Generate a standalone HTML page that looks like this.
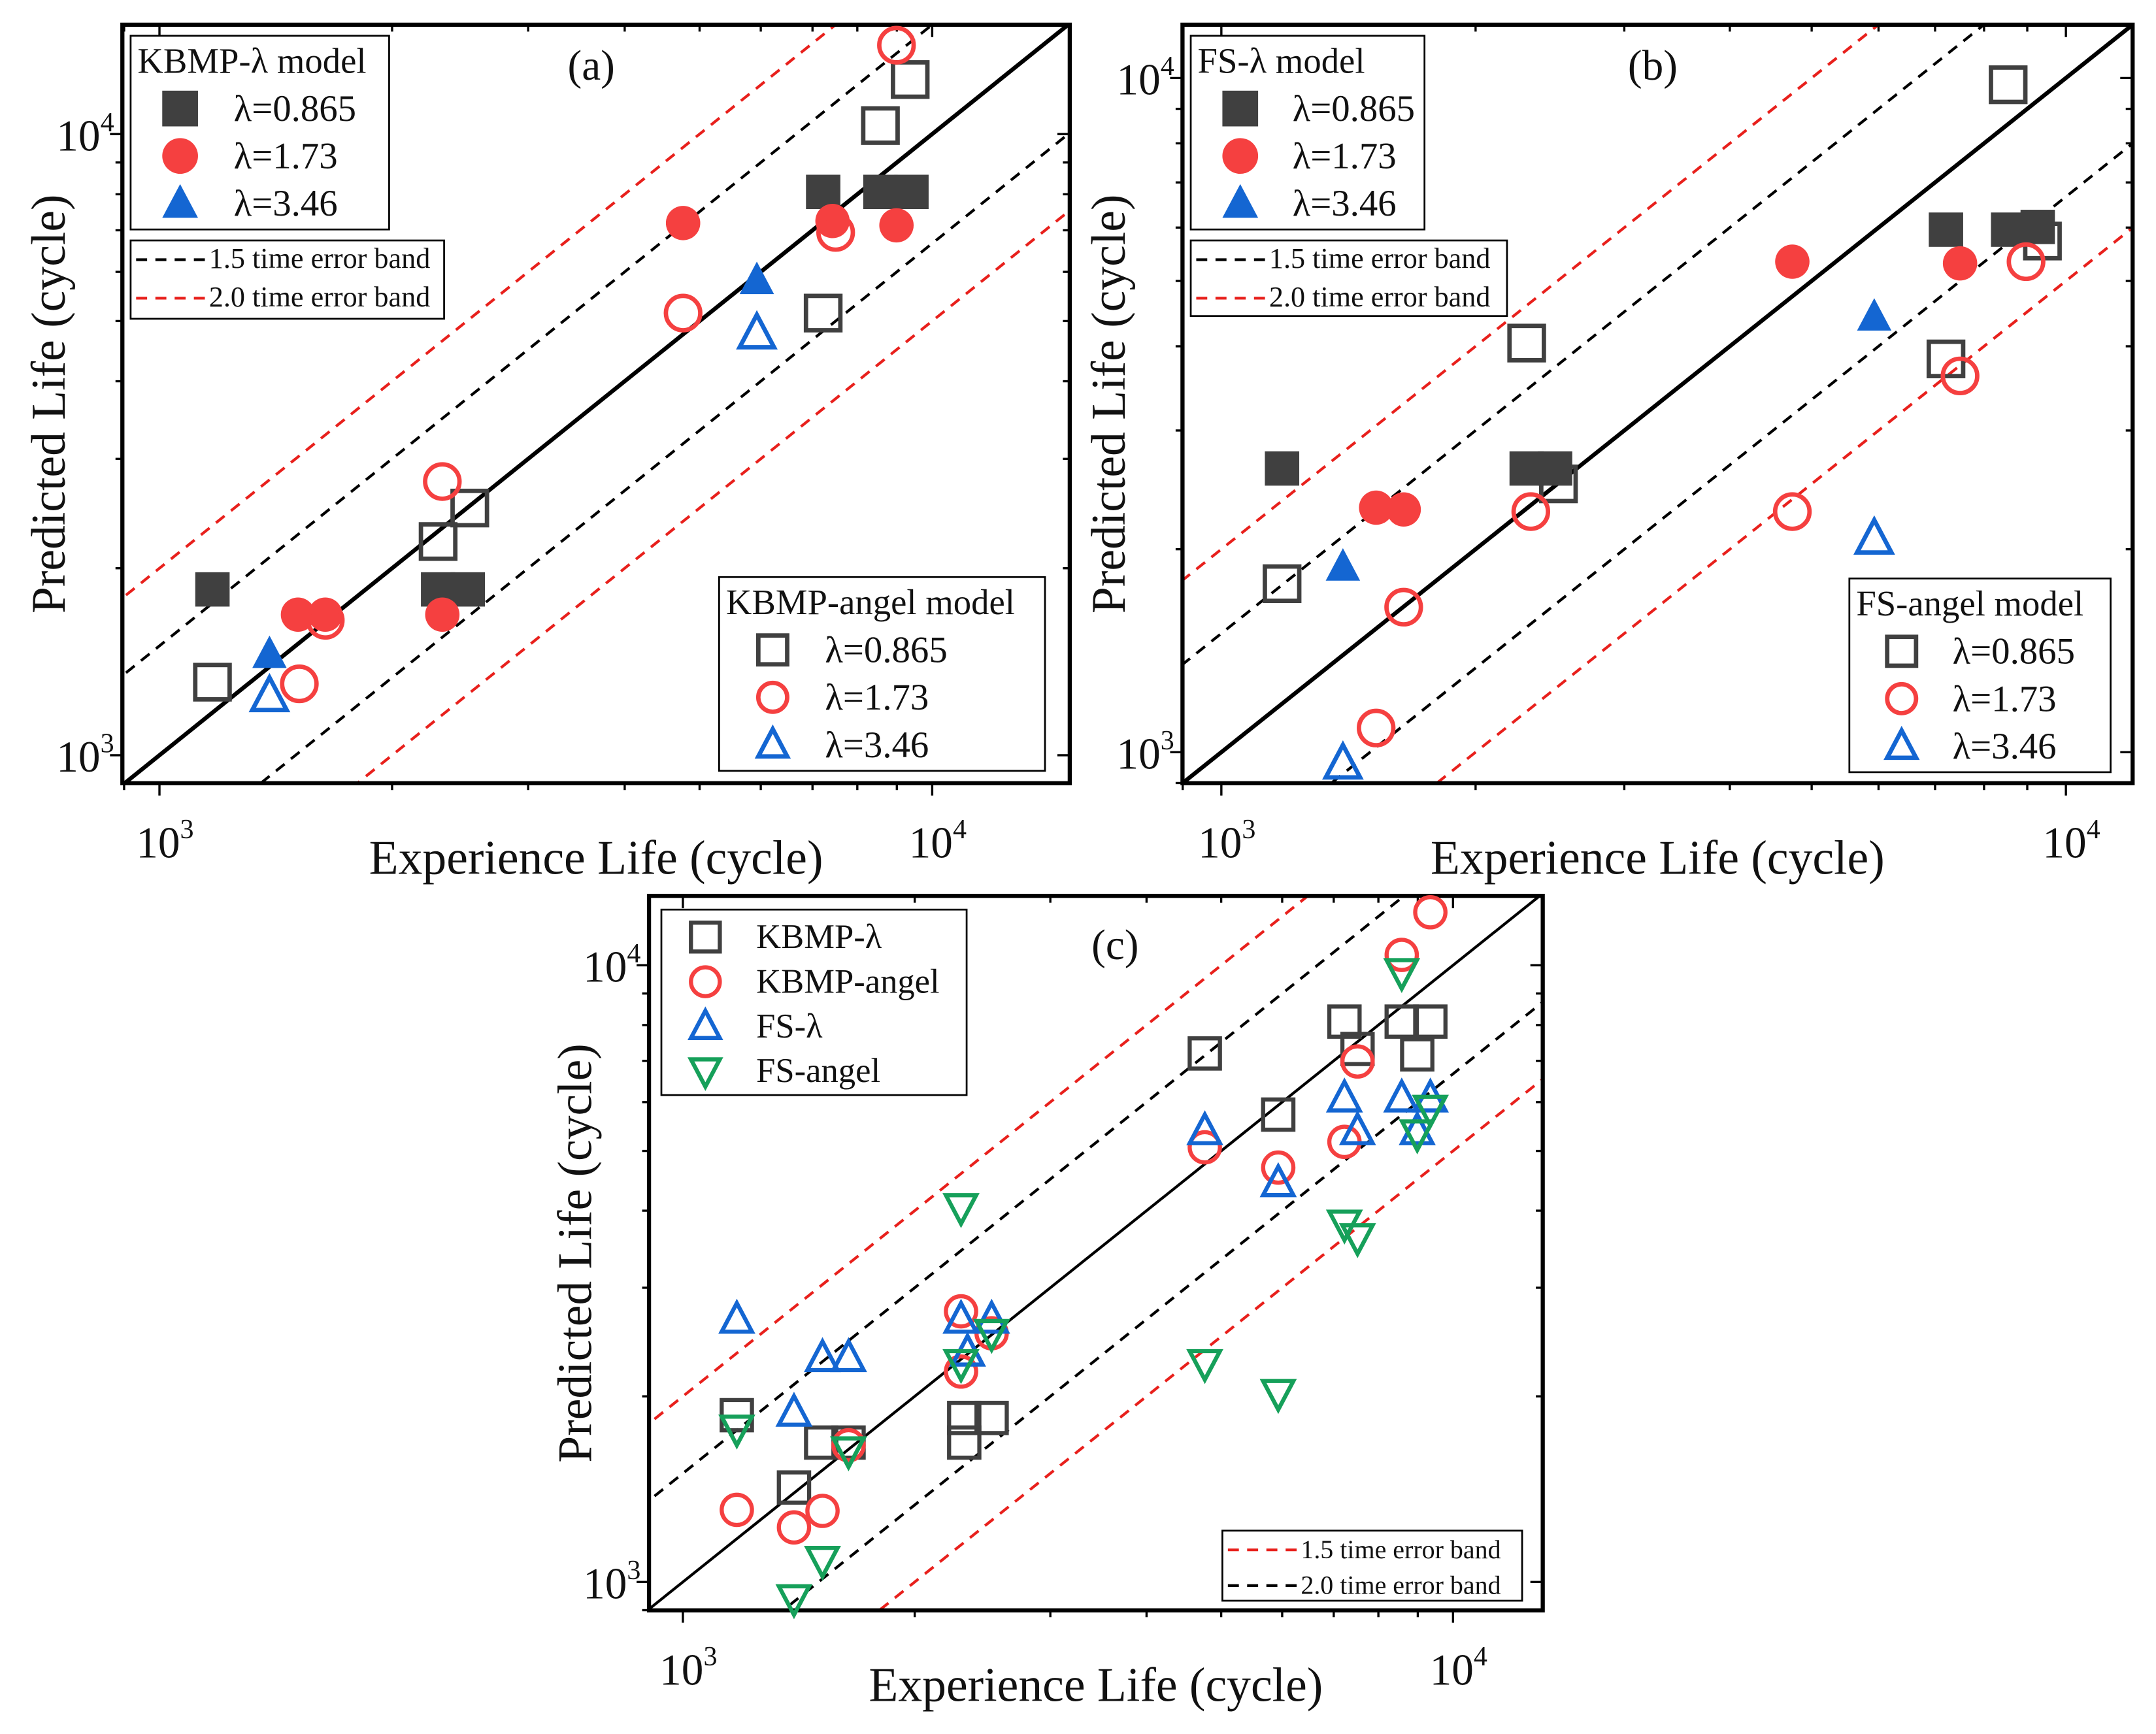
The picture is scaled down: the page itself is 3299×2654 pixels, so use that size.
<!DOCTYPE html>
<html><head><meta charset="utf-8"><style>
html,body{margin:0;padding:0;background:#fff;width:3299px;height:2654px;overflow:hidden}
svg{display:block}
text{font-family:"Liberation Serif","DejaVu Serif",serif;fill:#111}
</style></head><body>
<svg id="fig" width="3299" height="2654" viewBox="0 0 1568 1262" preserveAspectRatio="none" xmlns="http://www.w3.org/2000/svg"></svg>
<script>
// Panel (a) data
const A_sqF_x=[1171,2294,2506,7226,8570,9400];
const A_sqF_y=[1849,1849,1849,8070,8070,8070];
const A_cirF_x=[1511,1639,2323,4760,7430,8990];
const A_cirF_y=[1684,1684,1684,7190,7245,7130];
const A_triF_x=[1388,5930];
const A_triF_y=[1455,5818];
const A_sqO_x=[1171,2294,2521,7226,8570,9365];
const A_sqO_y=[1311,2208,2500,5150,10320,12240];
const A_cirO_x=[1517,1639,2323,4760,7500,8990];
const A_cirO_y=[1303,1649,2758,5150,6944,13900];
const A_triO_x=[1388,5930];
const A_triO_y=[1245,4777];
// Panel (b) data
const B_sqF_x=[1180,2299,2484,7211,8543,9260];
const B_sqF_y=[2635,2635,2635,5957,5957,6013];
const B_sqO_x=[1180,2299,2507,7211,8543,9380];
const B_sqO_y=[1778,4044,2500,3831,9772,5730];
const B_cirF_x=[1525,1644,4743,7493];
const B_cirF_y=[2305,2291,5340,5309];
const B_cirO_x=[2325,1644,1525,4743,7493,8970];
const B_cirO_y=[2274,1641,1086,2274,3615,5340];
const B_triF_x=[1393,5930];
const B_triF_y=[1884,4425];
const B_triO_x=[1393,5930];
const B_triO_y=[962,2074];
// Panel (c) data
const C_sq_x=[1175,1512,1394,1641,2319,2517,2319,4761,5930,7228,7516,8578,9344,8985];
const C_sq_y=[1864,1683,1423,1683,1845,1845,1683,7195,5727,8104,7317,8104,8104,7170];
const C_cir_x=[1175,1394,1518,1641,2297,2297,2517,4761,5930,7228,7516,8578,9344];
const C_cir_y=[1309,1226,1304,1666,2747,2194,2531,5068,4699,5172,6983,10395,12190];
const C_triU_x=[1175,1394,1518,1641,2297,2517,2342,4761,5930,7228,7516,8578,9344,8985];
const C_triU_y=[2665,1883,2309,2309,2665,2665,2357,5387,4438,6089,5387,6089,6089,5387];
const C_triD_x=[1175,1394,1518,1641,2297,2297,2517,4761,5930,7228,7516,8578,8985,9344];
const C_triD_y=[1771,940,1085,1633,4049,2262,2531,2262,2023,3808,3619,9739,5333,5846];
const bandFactors=[1,1.5,1/1.5,2,0.5];
const majorTicks=[1000,10000];

const NS="http://www.w3.org/2000/svg";
const svg=document.getElementById('fig');
const FONT='"Liberation Serif","DejaVu Serif",serif';
function mk(tag,attrs,parent){const e=document.createElementNS(NS,tag);for(const k in attrs)e.setAttribute(k,attrs[k]);if(tag==='text')e.setAttribute('font-family',FONT);(parent||svg).appendChild(e);return e;}
const GRAY='#404040',RED='#f54040',BLUE='#1466d2',GREEN='#16a05a';

function marker(g,shape,cx,cy,s,color,filled,sw){
  let e;
  if(shape==='sq'){e=mk('rect',{x:cx-s/2,y:cy-s/2,width:s,height:s},g);}
  else if(shape==='cir'){e=mk('circle',{cx:cx,cy:cy,r:s/2},g);}
  else if(shape==='triU'){const h=s*0.9;e=mk('polygon',{points:`${cx},${cy-h*0.6} ${cx-s/2},${cy+h*0.45} ${cx+s/2},${cy+h*0.45}`},g);}
  else {const h=s*0.9;e=mk('polygon',{points:`${cx},${cy+h*0.6} ${cx-s/2},${cy-h*0.45} ${cx+s/2},${cy-h*0.45}`},g);}
  if(filled){e.setAttribute('fill',color);e.setAttribute('stroke','none');}
  else{e.setAttribute('fill','none');e.setAttribute('stroke',color);e.setAttribute('stroke-width',sw);}
  return e;
}

function panel(p){
  const g=mk('g',{});
  
  
  const X=v=>p.L+(Math.log10(v)-p.x0)/(p.x1-p.x0)*(p.R-p.L);
  const Y=v=>p.B-(Math.log10(v)-p.y0)/(p.y1-p.y0)*(p.B-p.T);
  const cid='clip'+p.id;
  const cp=mk('clipPath',{id:cid},g);mk('rect',{x:p.L,y:p.T,width:p.R-p.L,height:p.B-p.T},cp);
  const lg=mk('g',{'clip-path':`url(#${cid})`},g);
  
  
  const lo=Math.pow(10,p.x0-0.5),hi=Math.pow(10,p.x1+0.5);
  bandFactors.forEach((f,i)=>{
    const col=i===0?'#000':(i<3?'#000':'#e8201c');
    const ln=mk('line',{x1:X(lo),y1:Y(lo*f),x2:X(hi),y2:Y(hi*f),stroke:col,'stroke-width':i===0?p.solidW:2,'stroke-dasharray':i===0?'none':'8,6'},lg);
    
    
  });
  const tg=mk('g',{stroke:'#000','stroke-width':1.6},g);
  for(let d=2;d<=5;d++)for(let m=1;m<10;m++){
    const v=m*Math.pow(10,d);const lv=Math.log10(v);
    const len=m===1?9:5;
    if(lv>=p.x0&&lv<=p.x1){const x=X(v);mk('line',{x1:x,y1:p.B,x2:x,y2:p.B+len},tg);mk('line',{x1:x,y1:p.T,x2:x,y2:p.T+len},tg);}
    if(lv>=p.y0&&lv<=p.y1){const y=Y(v);mk('line',{x1:p.L,y1:y,x2:p.L-len,y2:y},tg);mk('line',{x1:p.R,y1:y,x2:p.R-len,y2:y},tg);}
  }
  majorTicks.forEach(v=>{
    const e=Math.round(Math.log10(v));
    const tx=mk('text',{x:X(v)-17,y:p.B+54,'font-size':32},g);
    
    
    tx.appendChild(document.createTextNode('10'));
    const s1=mk('tspan',{dy:-14,'font-size':20},tx);s1.textContent=e;
    const ty=mk('text',{x:p.L-6,y:Y(v)+12,'font-size':32,'text-anchor':'end'},g);
    
    
    ty.appendChild(document.createTextNode('10'));
    const s2=mk('tspan',{dy:-14,'font-size':20},ty);s2.textContent=e;
  });
  mk('rect',{x:p.L,y:p.T,width:p.R-p.L,height:p.B-p.T,fill:'none',stroke:'#000','stroke-width':3},g);
  p.series.forEach(s=>{
    const sg=mk('g',{},g);
    
    
    s.x.forEach((v,i)=>{
      const m=marker(sg,s.shape,X(v),Y(s.y[i]),p.ms,s.color,s.filled,p.sw);
      
      
    });
  });
  const xt=mk('text',{x:(p.L+p.R)/2,y:p.B+66,'font-size':35,'text-anchor':'middle'},g);
  
  
  xt.textContent='Experience Life (cycle)';
  const yc=(p.T+p.B)/2, yx=p.L-42;
  const yt=mk('text',{x:yx,y:yc,'font-size':35,'text-anchor':'middle',transform:`rotate(-90 ${yx} ${yc})`},g);
  
  
  yt.textContent='Predicted Life (cycle)';
  const pl=mk('text',{x:p.lab[0],y:p.lab[1],'font-size':31,'text-anchor':'middle'},g);
  
  
  pl.textContent=p.label;
  return g;
}

function legendBox(x,y,w,h,name){
  const g=mk('g',{});
  
  
  mk('rect',{x:x,y:y,width:w,height:h,fill:'#fff',stroke:'#000','stroke-width':1.3},g);
  return g;
}
function legendText(g,x,y,txt,fs){const t=mk('text',{x:x,y:y,'font-size':fs},g);t.textContent=txt;
  
  
  return t;}
function modelLegend(x,y,w,title,mx,tx,filled,name){
  const g=legendBox(x,y,w,141,name);
  legendText(g,x+5,y+27,title,26);
  const cols=[GRAY,RED,BLUE],shapes=['sq','cir','triU'],labs=['λ=0.865','λ=1.73','λ=3.46'];
  for(let i=0;i<3;i++){const cy=y+53+i*34.5;
    const m=marker(g,shapes[i],mx,cy,filled?26:21,cols[i],filled,3.2);
    
    
    legendText(g,tx,cy+9,labs[i],27);}
}
function bandLegend(x,y,w,h,c1,c2,l1,l2,fs,dy){
  const g=legendBox(x,y,w,h,'error-band-legend');
  [[c1,l1],[c2,l2]].forEach((a,i)=>{const yy=y+14+i*dy;
    const ln=mk('line',{x1:x+4,y1:yy,x2:x+55,y2:yy,stroke:a[0],'stroke-width':2,'stroke-dasharray':'8,6'},g);
    
    
    legendText(g,x+57,yy+6,a[1],fs);});
}

panel({id:'a',name:'panel-a',label:'(a)',lab:[430,58],L:89,R:778,T:18,B:570,x0:2.952,x1:4.178,y0:2.955,y1:4.176,ms:25,sw:3.2,solidW:3,
 series:[
  {name:'kbmp-lambda-0865',shape:'sq',color:GRAY,filled:true,x:A_sqF_x,y:A_sqF_y},
  {name:'kbmp-lambda-173',shape:'cir',color:RED,filled:true,x:A_cirF_x,y:A_cirF_y},
  {name:'kbmp-lambda-346',shape:'triU',color:BLUE,filled:true,x:A_triF_x,y:A_triF_y},
  {name:'kbmp-angel-0865',shape:'sq',color:GRAY,filled:false,x:A_sqO_x,y:A_sqO_y},
  {name:'kbmp-angel-173',shape:'cir',color:RED,filled:false,x:A_cirO_x,y:A_cirO_y},
  {name:'kbmp-angel-346',shape:'triU',color:BLUE,filled:false,x:A_triO_x,y:A_triO_y}]});
modelLegend(95,26,188,'KBMP-λ model',131,170,true,'kbmp-lambda-legend');
bandLegend(95,175,228,57,'#000','#e8201c','1.5 time error band','2.0 time error band',21,28);
modelLegend(523,420,237,'KBMP-angel model',562,600,false,'kbmp-angel-legend');

panel({id:'b',name:'panel-b',label:'(b)',lab:[1202,58],L:860,R:1551,T:18,B:570,x0:2.954,x1:4.079,y0:2.954,y1:4.079,ms:25,sw:3.2,solidW:3,
 series:[
  {name:'fs-lambda-0865',shape:'sq',color:GRAY,filled:true,x:B_sqF_x,y:B_sqF_y},
  {name:'fs-lambda-173',shape:'cir',color:RED,filled:true,x:B_cirF_x,y:B_cirF_y},
  {name:'fs-lambda-346',shape:'triU',color:BLUE,filled:true,x:B_triF_x,y:B_triF_y},
  {name:'fs-angel-0865',shape:'sq',color:GRAY,filled:false,x:B_sqO_x,y:B_sqO_y},
  {name:'fs-angel-173',shape:'cir',color:RED,filled:false,x:B_cirO_x,y:B_cirO_y},
  {name:'fs-angel-346',shape:'triU',color:BLUE,filled:false,x:B_triO_x,y:B_triO_y}]});
modelLegend(866,26,170,'FS-λ model',902,940,true,'fs-lambda-legend');
bandLegend(866,175,230,55,'#000','#e8201c','1.5 time error band','2.0 time error band',21,28);
modelLegend(1345,421,190,'FS-angel model',1383,1420,false,'fs-angel-legend');

panel({id:'c',name:'panel-c',label:'(c)',lab:[811,698],L:472,R:1122,T:652,B:1172,x0:2.956,x1:4.1165,y0:2.954,y1:4.1126,ms:22,sw:3,solidW:2,
 series:[
  {name:'kbmp-lambda',shape:'sq',color:GRAY,filled:false,x:C_sq_x,y:C_sq_y},
  {name:'kbmp-angel',shape:'cir',color:RED,filled:false,x:C_cir_x,y:C_cir_y},
  {name:'fs-lambda',shape:'triU',color:BLUE,filled:false,x:C_triU_x,y:C_triU_y},
  {name:'fs-angel',shape:'triD',color:GREEN,filled:false,x:C_triD_x,y:C_triD_y}]});
(function(){
  const g=legendBox(481,662,222,135,'panel-c-legend');
  const sh=['sq','cir','triU','triD'],co=[GRAY,RED,BLUE,GREEN],lb=['KBMP-λ','KBMP-angel','FS-λ','FS-angel'];
  for(let i=0;i<4;i++){const cy=682+i*32.5;
    const m=marker(g,sh[i],513,cy,21,co[i],false,3);
    
    
    legendText(g,550,cy+8,lb[i],25);}
})();
bandLegend(889,1114,218,51,'#e8201c','#000','1.5 time error band','2.0 time error band',19,26);
</script>
</body></html>
